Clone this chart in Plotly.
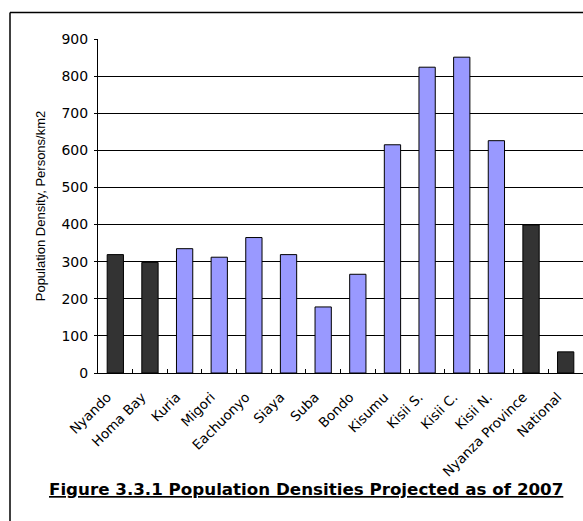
import plotly.graph_objects as go

categories = ["Nyando", "Homa Bay", "Kuria", "Migori", "Eachuonyo", "Siaya", "Suba",
              "Bondo", "Kisumu", "Kisii S.", "Kisii C.", "Kisii N.", "Nyanza Province", "National"]
densities = [319, 298, 335, 312, 365, 319, 178, 266, 615, 824, 851, 626, 399, 57]
groups = ["dark", "dark", "blue", "blue", "blue", "blue", "blue", "blue", "blue", "blue",
          "blue", "blue", "dark", "dark"]
y_ticks = [0, 100, 200, 300, 400, 500, 600, 700, 800, 900]

palette = {"dark": "#333333", "blue": "#9999FF"}
WIDE = "DejaVu Sans, Arial, sans-serif"
NARROW = "Liberation Sans, Arial, sans-serif"

W, H = 583, 521
L, R, T, B = 98, 0, 39, 148
pw, ph = W - L - R, H - T - B

def px_x(x):
    return (x - L) / pw

def px_y(y):
    return (H - B - y) / ph

fig = go.Figure(go.Bar(
    x=categories, y=densities,
    marker=dict(color=[palette[g] for g in groups], line=dict(color="black", width=1)),
    width=0.47,
))

fig.update_layout(
    width=W, height=H,
    margin=dict(l=L, r=R, t=T, b=B, pad=0),
    paper_bgcolor="white", plot_bgcolor="white",
    showlegend=False,
    font=dict(family=WIDE, color="black", size=13),
    xaxis=dict(
        type="category", tickangle=-45, tickfont=dict(size=13.5, family=WIDE),
        ticks="inside", tickson="boundaries", ticklen=4, tickcolor="black",
        ticklabelstandoff=10, ticklabelshift=-8,
        showline=True, linecolor="black", linewidth=1, showgrid=False,
        range=[-0.5, len(categories) - 0.5],
    ),
    yaxis=dict(
        range=[0, 900], tickvals=y_ticks, tickfont=dict(size=14, family=WIDE),
        ticks="outside", ticklen=3, tickcolor="black", ticklabelstandoff=3,
        showgrid=True, gridcolor="black", gridwidth=1,
        showline=True, linecolor="black", linewidth=1, mirror=False,
        zeroline=False,
        title=dict(text="Population Density, Persons/km2",
                   font=dict(size=13, family=NARROW), standoff=12),
    ),
    shapes=[
        dict(type="line", xref="paper", yref="paper",
             x0=px_x(10), x1=px_x(590), y0=px_y(12.5), y1=px_y(12.5),
             line=dict(color="black", width=1.5)),
        dict(type="line", xref="paper", yref="paper",
             x0=px_x(10), x1=px_x(10), y0=px_y(12.5), y1=px_y(530),
             line=dict(color="black", width=1.5)),
    ],
    annotations=[
        dict(text="<b><u>Figure 3.3.1 Population Densities Projected as of 2007</u></b>",
             xref="paper", yref="paper", x=px_x(306), y=px_y(489),
             xanchor="center", yanchor="middle", showarrow=False,
             font=dict(size=16.7, family=WIDE, color="black")),
    ],
)

fig.write_html("out.html")
